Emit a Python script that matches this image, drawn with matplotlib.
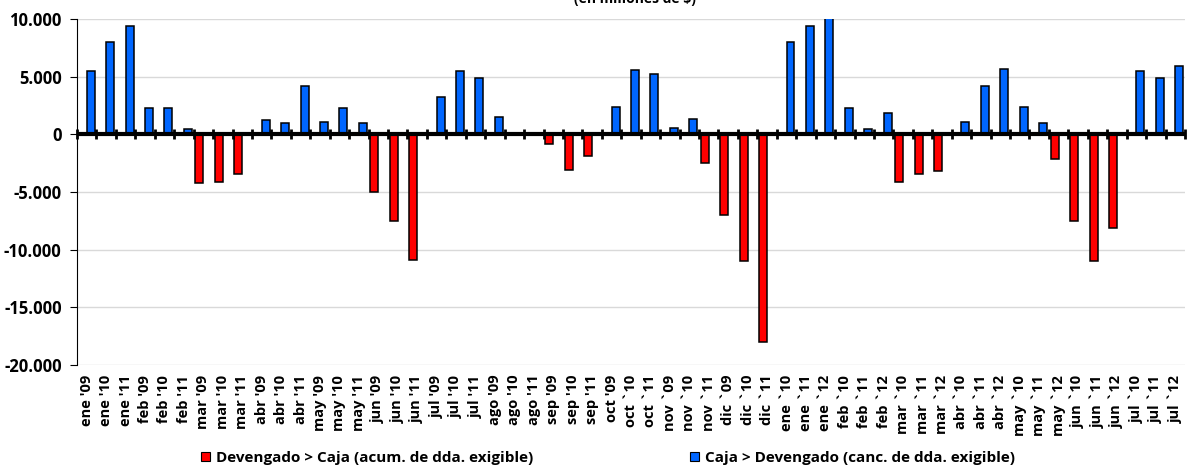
import numpy as np
import matplotlib
matplotlib.use("Agg")
import matplotlib.pyplot as plt
from matplotlib.ticker import FuncFormatter
from matplotlib.patches import Patch

plt.rcParams['font.family'] = ['Open Sans', 'DejaVu Sans']
plt.rcParams['font.weight'] = 'bold'

# categorias (mes + año)
etiquetas = [
    "ene '09", "ene '10", "ene '11", "feb '09", "feb '10", "feb '11",
    "mar '09", "mar '10", "mar '11", "abr '09", "abr '10", "abr '11",
    "may '09", "may '10", "may '11", "jun '09", "jun '10", "jun '11",
    "jul '09", "jul '10", "jul '11", "ago '09", "ago '10", "ago '11",
    "sep '09", "sep '10", "sep '11", "oct '09", "oct `10", "oct `11",
    "nov `09", "nov `10", "nov `11", "dic `09", "dic `10", "dic `11",
    "ene `10", "ene `11", "ene `12", "feb `10", "feb `11", "feb `12",
    "mar `10", "mar `11", "mar `12", "abr `10", "abr `11", "abr `12",
    "may `10", "may `11", "may `12", "jun `10", "jun `11", "jun `12",
    "jul `10", "jul `11", "jul `12",
]

# Devengado > Caja (valores negativos, en millones de $)
devengado = [
    0, 0, 0, 0, 0, 0,
    -4200, -4100, -3450, 0, 0, 0,
    0, 0, 0, -5000, -7500, -10900,
    0, 0, 0, 0, 0, 0,
    -850, -3050, -1900, 0, 0, 0,
    0, 0, -2500, -7000, -11000, -18000,
    0, 0, 0, 0, 0, 0,
    -4150, -3450, -3150, 0, 0, 0,
    0, 0, -2150, -7500, -10950, -8100,
    0, 0, 0,
]

# Caja > Devengado
caja = [
    5500, 8000, 9400, 2300, 2300, 450,
    0, 0, 0, 1200, 1000, 4200,
    1100, 2300, 1000, 0, 0, 0,
    3200, 5500, 4900, 1500, 0, 0,
    0, 0, 0, 2400, 5600, 5250,
    550, 1300, 0, 0, 0, 0,
    8000, 9400, 10300, 2300, 450, 1850,
    0, 0, 0, 1050, 4200, 5650,
    2350, 1000, 0, 0, 0, 0,
    5500, 4900, 5950,
]

rojo = '#FF0000'
azul = '#0066FF'

fig = plt.figure(figsize=(11.88, 4.66), dpi=100)
ax = fig.add_axes([77/1188, 1 - 365/466, (1185 - 77)/1188, (365 - 19)/466])

x = np.arange(len(etiquetas))
w = 0.41
ax.bar(x - w/2, devengado, width=w, color=rojo, edgecolor='black', linewidth=1.1, zorder=3)
ax.bar(x + w/2, caja, width=w, color=azul, edgecolor='black', linewidth=1.1, zorder=3)

ax.set_xlim(-0.5, len(etiquetas) - 0.5)
ax.set_ylim(-20000, 10000)
ax.set_yticks(np.arange(-20000, 10001, 5000))
ax.yaxis.set_major_formatter(FuncFormatter(lambda v, p: f"{int(v):,}".replace(',', '.')))
ax.grid(axis='y', color='#d9d9d9', linewidth=1, zorder=0)
ax.tick_params(axis='y', labelsize=12, length=5, width=0.8, pad=6)

ax.set_xticks(x)
ax.set_xticklabels(etiquetas, rotation=90, fontsize=10.5)
ax.tick_params(axis='x', length=0, pad=7)

for s in ['top', 'right', 'bottom']:
    ax.spines[s].set_visible(False)
ax.spines['left'].set_linewidth(0.8)

# linea del cero con marcas cruzadas
ax.axhline(0, color='black', linewidth=3, zorder=4)
bordes = np.arange(len(etiquetas) + 1) - 0.5
ax.plot(bordes, np.zeros_like(bordes), ls='none', marker='|', ms=7, mew=2,
        color='black', zorder=5, clip_on=False)

fig.text(635/1188, 1 - 3/466, '(en millones de $)', ha='center', va='baseline',
         fontsize=10, fontweight='bold')

handles = [Patch(facecolor=rojo, edgecolor='black', linewidth=0.8),
           Patch(facecolor=azul, edgecolor='black', linewidth=0.8)]
fig.legend(handles, ['Devengado > Caja (acum. de dda. exigible)',
                     'Caja > Devengado (canc. de dda. exigible)'],
           loc='center', bbox_to_anchor=(608/1188, 1 - 458/466), ncol=2,
           frameon=False, fontsize=11, handlelength=0.6, handleheight=0.6,
           handletextpad=0.35, columnspacing=10.3, borderpad=0.2)

fig.savefig('out.png', dpi=100)
